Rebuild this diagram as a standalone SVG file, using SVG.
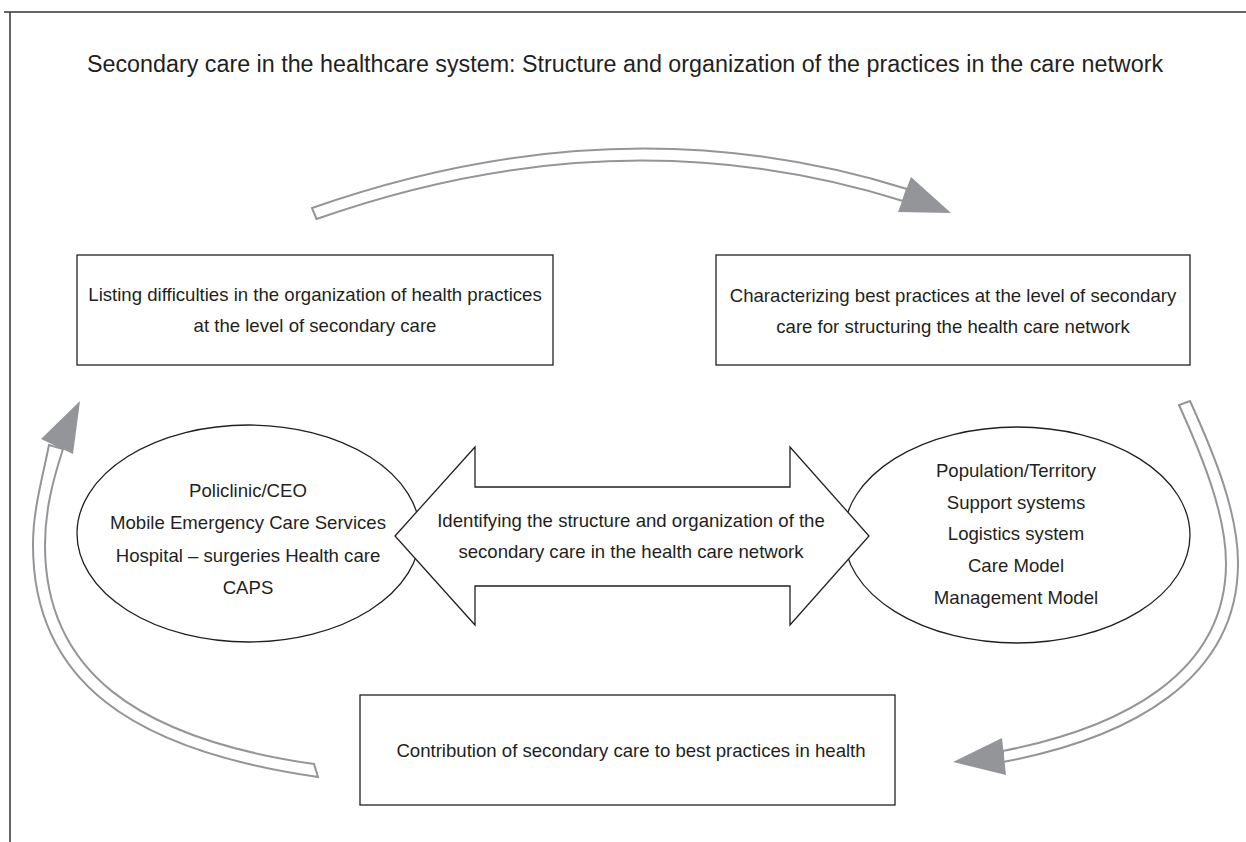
<svg xmlns="http://www.w3.org/2000/svg" width="1246" height="842" viewBox="0 0 1246 842">
<style>
text{font-family:"Liberation Sans",Arial,sans-serif;fill:#231f20;text-anchor:middle}
.t{font-size:18.6px}
.title{font-size:23.3px}
.box{fill:#fff;stroke:#231f20;stroke-width:1.3}
.band{fill:#fff;stroke:#939598;stroke-width:2;stroke-linejoin:miter}
.head{fill:#939598;stroke:none}
.frame{stroke:#333;stroke-width:1.5;fill:none}
</style>
<g id="frame">
<line class="frame" x1="4" y1="12" x2="1246" y2="12"/>
<line class="frame" x1="10" y1="12" x2="10" y2="842"/>
</g>
<g id="title"><text class="title" x="625" y="72">Secondary care in the healthcare system: Structure and organization of the practices in the care network</text></g>
<g id="connectors">
<path class="band" d="M312,208 Q620.5,99.5 907,189 L903,201 Q620,112 316.5,219 Z"/>
<polygon class="head" points="911,177 951,213 898,212"/>
<path class="band" d="M1190,401 C1215,456 1238,513 1238,563 C1238,680 1130,738 1003,762 L1003,751 C1120,728 1226,675 1226,563 C1226,515 1203,458 1179,405 Z"/>
<polygon class="head" points="1002,738 953,762 1006,775"/>
<path class="band" d="M49,445 C42,480 33,510 33,545 C33,680 130,750 318,777 L314,764 C135,738 45,670 45,545 C45,510 53,480 63,449 Z"/>
<polygon class="head" points="80,401 41,439 73,454"/>
</g>
<g id="listing">
<rect class="box" x="77" y="255" width="476" height="110"/>
<text class="t" x="315" y="301">Listing difficulties in the organization of health practices</text>
<text class="t" x="315" y="332">at the level of secondary care</text>
</g>
<g id="characterizing">
<rect class="box" x="716" y="255" width="474" height="110"/>
<text class="t" x="953" y="302">Characterizing best practices at the level of secondary</text>
<text class="t" x="953" y="333">care for structuring the health care network</text>
</g>
<g id="units">
<ellipse class="box" cx="248.5" cy="533.5" rx="171.5" ry="108.5"/>
<text class="t" x="248" y="497">Policlinic/CEO</text>
<text class="t" x="248" y="529">Mobile Emergency Care Services</text>
<text class="t" x="248" y="561.5">Hospital – surgeries Health care</text>
<text class="t" x="248" y="594">CAPS</text>
</g>
<g id="components">
<ellipse class="box" cx="1017" cy="535" rx="173" ry="108"/>
<text class="t" x="1016" y="477">Population/Territory</text>
<text class="t" x="1016" y="508.5">Support systems</text>
<text class="t" x="1016" y="540">Logistics system</text>
<text class="t" x="1016" y="572">Care Model</text>
<text class="t" x="1016" y="604">Management Model</text>
</g>
<g id="identifying">
<polygon class="box" points="395,536 475,447 475,487 790,487 790,447 869,536 790,625 790,586 475,586 475,625"/>
<text class="t" x="631" y="527">Identifying the structure and organization of the</text>
<text class="t" x="631" y="558">secondary care in the health care network</text>
</g>
<g id="contribution">
<rect class="box" x="360" y="695" width="535" height="110"/>
<text class="t" x="631" y="757">Contribution of secondary care to best practices in health</text>
</g>
</svg>
